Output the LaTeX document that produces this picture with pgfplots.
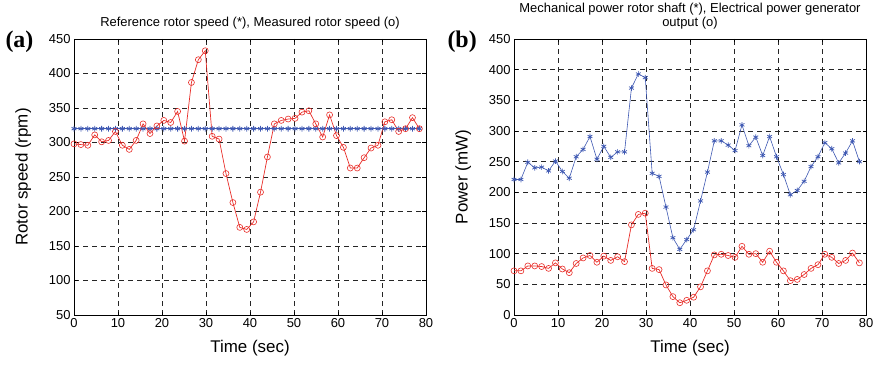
\documentclass[border=0pt]{standalone}
\usepackage{pgfplots}
\pgfplotsset{compat=1.18}
\usepackage{pgfplotstable}
\usepackage{fontspec}
\setmainfont{Liberation Sans}
\newfontfamily\serifb{Liberation Serif}
\definecolor{myred}{RGB}{232,45,40}
\definecolor{myblue}{RGB}{62,88,178}

\pgfplotstableread{
t ref meas
0 320 298
1.57 320 297
3.14 320 296
4.71 320 311
6.28 320 301
7.85 320 303
9.42 320 316
10.99 320 296
12.56 320 290
14.13 320 303
15.7 320 327
17.27 320 313
18.84 320 324
20.41 320 332
21.98 320 329
23.55 320 345
25.12 320 302
26.69 320 387
28.26 320 420
29.83 320 433
31.4 320 309
32.97 320 305
34.54 320 255
36.11 320 213
37.68 320 177
39.25 320 174
40.82 320 185
42.39 320 228
43.96 320 279
45.53 320 327
47.1 320 332
48.67 320 334
50.24 320 335
51.81 320 344
53.38 320 346
54.95 320 327
56.52 320 308
58.09 320 340
59.66 320 310
61.23 320 293
62.8 320 263
64.37 320 263
65.94 320 278
67.51 320 292
69.08 320 296
70.65 320 330
72.22 320 333
73.79 320 316
75.36 320 320
76.93 320 336
78.5 320 320
}\speed

\pgfplotstableread{
t mech elec
0 221 72
1.57 221 72
3.14 249 80
4.71 240 80
6.28 241 79
7.85 235 76
9.42 251 85
10.99 234 75
12.56 223 69
14.13 258 84
15.7 270 93
17.27 291 97
18.84 254 86
20.41 275 96
21.98 257 89
23.55 266 95
25.12 266 87
26.69 370 147
28.26 393 164
29.83 387 166
31.4 231 76
32.97 226 74
34.54 176 49
36.11 126 30
37.68 107 20
39.25 123 24
40.82 139 29
42.39 186 46
43.96 233 72
45.53 284 98
47.1 284 99
48.67 277 97
50.24 268 94
51.81 310 112
53.38 276 99
54.95 290 100
56.52 260 86
58.09 291 104
59.66 258 86
61.23 229 72
62.8 196 56
64.37 203 58
65.94 218 66
67.51 242 76
69.08 258 82
70.65 281 99
72.22 271 94
73.79 248 84
75.36 264 89
76.93 284 101
78.5 250 85
}\power

\pgfplotsset{
 mystyle/.style={
  scale only axis, width=352bp, height=276bp,
  xmin=0, xmax=80, xtick={0,10,...,80},
  grid=major,
  major grid style={black!85, line width=0.5bp, dash pattern=on 5bp off 4bp},
  tick align=inside, major tick length=3.5bp,
  tick style={black, line width=0.5bp},
  axis line style={black, line width=0.8bp},
  tick label style={font=\fontsize{13}{15}\selectfont},
  label style={font=\fontsize{17}{19}\selectfont},
  title style={font=\fontsize{13}{14.5}\selectfont, align=center, at={(0.5,1)}, anchor=south, yshift=0bp},
  /pgf/number format/assume math mode=true,
  xlabel={Time (sec)},
  xlabel style={yshift=-6bp},
  ylabel style={yshift=11bp},
 }
}

\begin{document}
\begin{tikzpicture}[x=1bp,y=1bp]
\useasboundingbox (0,0) rectangle (878,364);
\begin{axis}[mystyle, at={(74bp,49bp)}, anchor=south west,
  ymin=50, ymax=450, ytick={50,100,...,450},
  ylabel={Rotor speed (rpm)},
  title={Reference rotor speed (*), Measured rotor speed (o)}]
\addplot[myblue, line width=0.9bp, mark=asterisk, mark size=2.8bp, mark options={solid, line width=0.8bp}] table[x=t, y=ref] {\speed};
\addplot[myred, line width=0.7bp, mark=o, mark size=3bp, mark options={solid, line width=0.6bp}] table[x=t, y=meas] {\speed};
\end{axis}
\begin{axis}[mystyle, at={(514bp,49bp)}, anchor=south west,
  ymin=0, ymax=450, ytick={0,50,...,450},
  ylabel={Power (mW)},
  title={Mechanical power rotor shaft (*), Electrical power generator\\output (o)}]
\addplot[myblue, line width=0.6bp, mark=asterisk, mark size=2.8bp, mark options={solid, line width=0.7bp}] table[x=t, y=mech] {\power};
\addplot[myred, line width=0.7bp, mark=o, mark size=3bp, mark options={solid, line width=0.6bp}] table[x=t, y=elec] {\power};
\end{axis}
\node[font=\serifb\bfseries\fontsize{24}{26}\selectfont, anchor=west] at (2,322) {(a)};
\node[font=\serifb\bfseries\fontsize{24}{26}\selectfont, anchor=west] at (444,322) {(b)};
\end{tikzpicture}
\end{document}
